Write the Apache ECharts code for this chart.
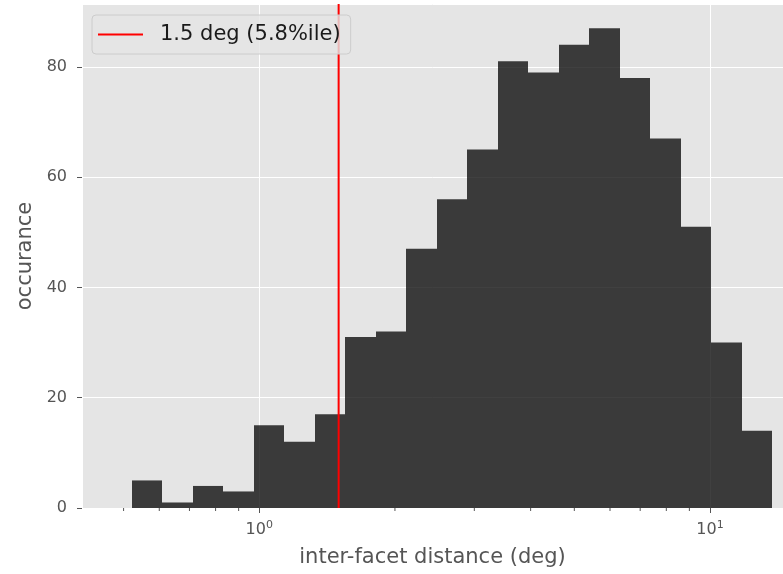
<!DOCTYPE html>
<html><head><meta charset="utf-8">
<script src="https://cdn.jsdelivr.net/npm/echarts@6/dist/echarts.min.js"></script>
<style>html,body{margin:0;padding:0;background:#fff}#c{width:783px;height:574px}</style>
</head><body><div id="c"></div><script>
// Histogram bin edges (log-spaced) and counts
const binEdges = [0.521, 0.609, 0.712, 0.832, 0.972, 1.136, 1.327, 1.551, 1.812, 2.118, 2.475,
                  2.893, 3.381, 3.951, 4.617, 5.395, 6.305, 7.368, 8.610, 10.06, 11.76, 13.74];
const counts = [5, 1, 4, 3, 15, 12, 17, 31, 32, 47, 56, 65, 81, 79, 84, 87, 78, 67, 51, 30, 14];
const cutoffValue = 1.5;
const cutoffLabel = '1.5 deg (5.8%ile)';
const minorTickValues = [0.5, 0.6, 0.7, 0.8, 0.9, 2, 3, 4, 5, 6, 7, 8, 9];
const xRange = [0.4043, 14.52];
const yRange = [0, 91.4];
const yTickStep = 20;
const xLabel = 'inter-facet distance (deg)';
const yLabel = 'occurance';

const histData = counts.map((c, i) => [binEdges[i], binEdges[i + 1], c]);
const font = 'DejaVu Sans';

const chart = echarts.init(document.getElementById('c'), null, {renderer: 'canvas'});
chart.setOption({
  animation: false,
  textStyle: {fontFamily: font},
  grid: {show: true, left: 82, top: 4, right: 0, bottom: 66, backgroundColor: '#e5e5e5', borderWidth: 0},
  legend: {
    data: [{name: cutoffLabel, icon: 'rect'}], left: 92, top: 15, itemWidth: 45, itemHeight: 2,
    backgroundColor: 'rgba(229,229,229,0.8)', borderColor: '#cccccc', borderWidth: 1, borderRadius: 4,
    padding: [9, 10, 9, 6],
    textStyle: {fontSize: 21, color: '#1a1a1a', fontFamily: font, padding: [0, 0, 0, 12]}
  },
  xAxis: {
    type: 'log', logBase: 10, min: xRange[0], max: xRange[1],
    axisLine: {show: false},
    axisTick: {show: true, length: 5, lineStyle: {color: '#555', width: 1}},
    splitLine: {show: true, lineStyle: {color: '#fff', width: 1}},
    axisLabel: {
      showMinLabel: false, showMaxLabel: false, margin: 12, color: '#555', fontSize: 16, fontFamily: font,
      formatter: v => '10{sup|' + Math.round(Math.log10(v)) + '}',
      rich: {sup: {fontSize: 11, color: '#555', fontFamily: font, verticalAlign: 'top', padding: [0, 0, 8, 0]}}
    },
    name: xLabel, nameLocation: 'middle', nameGap: 39,
    nameTextStyle: {fontSize: 21, color: '#555', fontFamily: font}
  },
  yAxis: {
    type: 'value', min: yRange[0], max: yRange[1], interval: yTickStep,
    axisLine: {show: false},
    axisTick: {show: true, length: 5, lineStyle: {color: '#555', width: 1}},
    splitLine: {show: true, lineStyle: {color: '#fff', width: 1}},
    axisLabel: {showMaxLabel: false, margin: 15, color: '#555', fontSize: 16, fontFamily: font},
    name: yLabel, nameLocation: 'middle', nameGap: 40,
    nameTextStyle: {fontSize: 21, color: '#555', fontFamily: font}
  },
  series: [
    {
      type: 'custom', name: 'hist', z: 2, silent: true,
      encode: {x: [0, 1], y: 2},
      data: histData,
      renderItem: (params, api) => {
        const p0 = api.coord([api.value(0), api.value(2)]);
        const p1 = api.coord([api.value(1), 0]);
        const x0 = Math.round(p0[0]), x1 = Math.round(p1[0]);
        return {type: 'rect', shape: {x: x0, y: p0[1], width: x1 - x0, height: p1[1] - p0[1]},
                style: {fill: 'rgba(0,0,0,0.75)'}};
      }
    },
    {
      type: 'line', name: cutoffLabel, z: 3, symbol: 'none', showSymbol: false, silent: true,
      data: [[cutoffValue, yRange[0]], [cutoffValue, yRange[1]]],
      lineStyle: {color: '#ff0000', width: 2}, itemStyle: {color: '#ff0000'}
    },
    {
      type: 'custom', name: 'minor', z: 1, silent: true, clip: false,
      encode: {x: 0, y: 1},
      data: minorTickValues.map(v => [v, yRange[0]]),
      renderItem: (params, api) => {
        const p = api.coord([api.value(0), api.value(1)]);
        return {type: 'line', shape: {x1: p[0], y1: p[1], x2: p[0], y2: p[1] + 3},
                style: {stroke: '#555', lineWidth: 1}};
      }
    }
  ]
});
</script></body></html>
